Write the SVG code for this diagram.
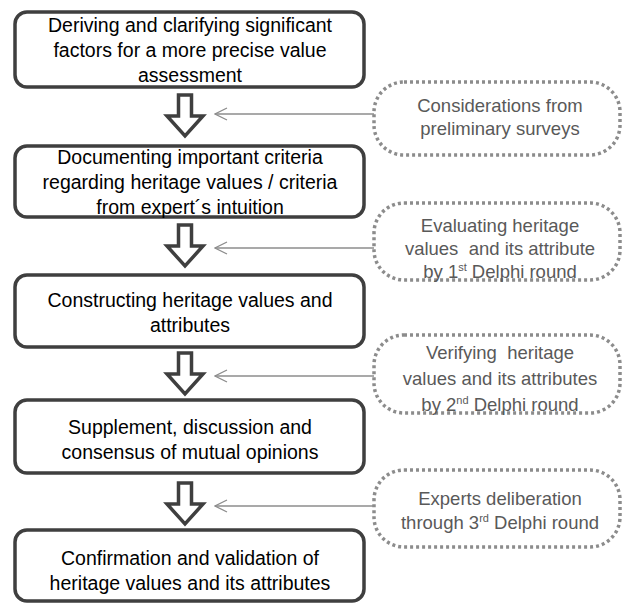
<svg xmlns="http://www.w3.org/2000/svg" width="623" height="606" viewBox="0 0 623 606">
<style>
.box{fill:#fff;stroke:#3f3f3f;stroke-width:3.5}
.dot{fill:#fff;stroke:#8c8c8c;stroke-width:3.5;stroke-dasharray:3 3}
.t{font-family:"Liberation Sans",Arial,sans-serif;font-size:19.5px;fill:#000;text-anchor:middle}
.g{font-family:"Liberation Sans",Arial,sans-serif;font-size:18.5px;fill:#595959;text-anchor:middle;white-space:pre}
.ha{fill:#fff;stroke:#3f3f3f;stroke-width:3.5;stroke-linejoin:miter}
.ln{stroke:#8c8c8c;stroke-width:1.3;fill:none}
</style>
<defs>
<marker id="open" markerWidth="14" markerHeight="14" refX="13" refY="7" orient="auto" markerUnits="userSpaceOnUse">
<path d="M1,1 L13,7 L1,13" fill="none" stroke="#8c8c8c" stroke-width="1.3"/>
</marker>
<path id="harrow" d="M-6.5,0 H6.5 V21 H18 L0,41 L-18,21 H-6.5 Z"/>
</defs>
<g id="n1"><rect class="box" x="15" y="12" width="349" height="75" rx="12"/>
<text class="t" x="190" y="32">Deriving and clarifying significant</text>
<text class="t" x="190" y="57">factors for a more precise value</text>
<text class="t" x="190" y="82">assessment</text></g>
<g id="n2"><rect class="box" x="15" y="146" width="349" height="71" rx="12"/>
<text class="t" x="190" y="164">Documenting important criteria</text>
<text class="t" x="190" y="189">regarding heritage values / criteria</text>
<text class="t" x="190" y="214">from expert´s intuition</text></g>
<g id="n3"><rect class="box" x="15" y="275" width="349" height="72" rx="12"/>
<text class="t" x="190" y="307">Constructing heritage values and</text>
<text class="t" x="190" y="332">attributes</text></g>
<g id="n4"><rect class="box" x="15" y="400" width="349" height="73" rx="12"/>
<text class="t" x="190" y="434">Supplement, discussion and</text>
<text class="t" x="190" y="459">consensus of mutual opinions</text></g>
<g id="n5"><rect class="box" x="15" y="530" width="349" height="71" rx="12"/>
<text class="t" x="190" y="565">Confirmation and validation of</text>
<text class="t" x="190" y="590">heritage values and its attributes</text></g>
<g id="d1"><rect class="dot" x="374" y="82" width="246" height="73" rx="30"/>
<text class="g" x="500" y="112">Considerations from</text>
<text class="g" x="500" y="135">preliminary surveys</text></g>
<g id="d2"><rect class="dot" x="374" y="203" width="246" height="77" rx="30"/>
<text class="g" x="500" y="232">Evaluating heritage</text>
<text class="g" x="500" y="255">values  and its attribute</text>
<text class="g" x="500" y="278">by 1<tspan font-size="11" dy="-7">st</tspan><tspan dy="7"> Delphi round</tspan></text></g>
<g id="d3"><rect class="dot" x="374" y="335" width="246" height="78" rx="30"/>
<text class="g" x="500" y="359">Verifying  heritage</text>
<text class="g" x="500" y="385">values and its attributes</text>
<text class="g" x="500" y="411">by 2<tspan font-size="11" dy="-7">nd</tspan><tspan dy="7"> Delphi round</tspan></text></g>
<g id="d4"><rect class="dot" x="374" y="470" width="246" height="77" rx="30"/>
<text class="g" x="500" y="505">Experts deliberation</text>
<text class="g" x="500" y="529">through 3<tspan font-size="11" dy="-7">rd</tspan><tspan dy="7"> Delphi round</tspan></text></g>
<g id="connectors">
<use href="#harrow" class="ha" x="185" y="95"/>
<use href="#harrow" class="ha" x="185" y="225"/>
<use href="#harrow" class="ha" x="185" y="353"/>
<use href="#harrow" class="ha" x="185" y="483"/>
<line class="ln" x1="374" y1="114" x2="215" y2="114" marker-end="url(#open)"/>
<line class="ln" x1="374" y1="248" x2="215" y2="248" marker-end="url(#open)"/>
<line class="ln" x1="374" y1="376" x2="215" y2="376" marker-end="url(#open)"/>
<line class="ln" x1="374" y1="506" x2="215" y2="506" marker-end="url(#open)"/>
</g>
</svg>
